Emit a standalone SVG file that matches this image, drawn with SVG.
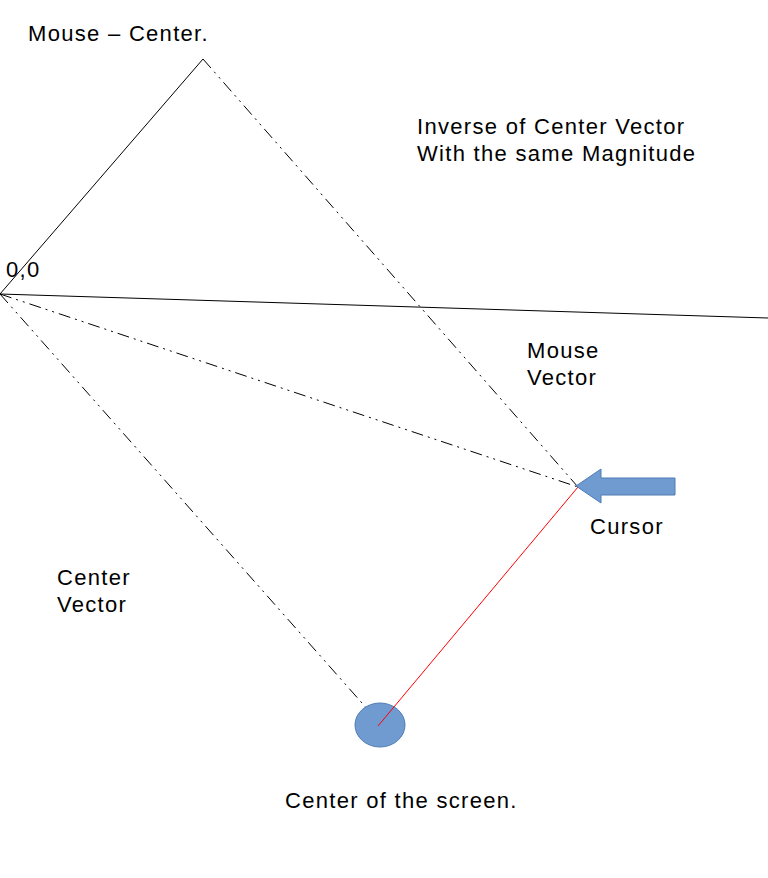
<svg xmlns="http://www.w3.org/2000/svg" width="768" height="878" viewBox="0 0 768 878">
<style>
text{font-family:"Liberation Sans",Arial,sans-serif;font-size:22px;letter-spacing:1.3px;fill:#000}
.solid{stroke:#000;stroke-width:1;fill:none}
.dd{stroke:#000;stroke-width:1;fill:none;stroke-dasharray:12 5 2 5 2 5}
.red{stroke:#ff0000;stroke-width:1;fill:none}
.blue{fill:#6f9bd1;stroke:#4f7cb5;stroke-width:1}
</style>
<rect width="768" height="878" fill="#fff"/>
<g id="connectors">
<line class="solid" x1="0" y1="294" x2="203" y2="59"/>
<line class="solid" x1="0" y1="294" x2="768" y2="318"/>
<line class="dd" x1="203" y1="59" x2="578" y2="487"/>
<line class="dd" x1="0" y1="294" x2="578" y2="487"/>
<line class="dd" x1="0" y1="294" x2="385" y2="729"/>
</g>
<g id="center-circle">
<ellipse class="blue" cx="380" cy="725" rx="25" ry="22"/>
</g>
<g id="red-vector">
<line class="red" x1="578" y1="487" x2="378" y2="726"/>
</g>
<g id="cursor-arrow">
<polygon class="blue" points="576,486 601,469 601,478 675,478 675,495 601,495 601,503"/>
</g>
<g id="labels">
<text x="28" y="41">Mouse – Center.</text>
<text x="417" y="134">Inverse of Center Vector</text>
<text x="417" y="161">With the same Magnitude</text>
<text x="6" y="277">0,0</text>
<text x="527" y="358">Mouse</text>
<text x="527" y="385">Vector</text>
<text x="590" y="534">Cursor</text>
<text x="57" y="585">Center</text>
<text x="57" y="612">Vector</text>
<text x="285" y="808">Center of the screen.</text>
</g>
</svg>
